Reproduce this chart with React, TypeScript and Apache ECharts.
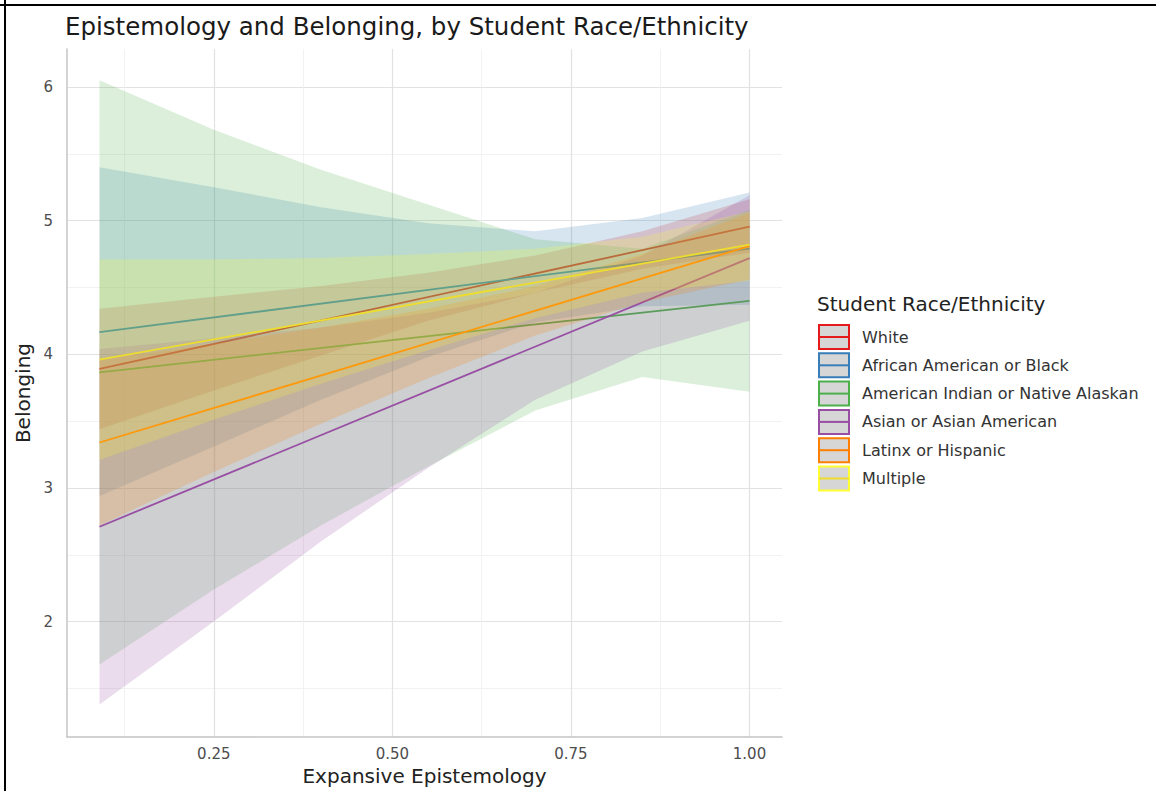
import { useEffect, useRef } from "react";
import * as echarts from "echarts";

// ---- data ----
const groups = [
  "White",
  "African American or Black",
  "American Indian or Native Alaskan",
  "Asian or Asian American",
  "Latinx or Hispanic",
  "Multiple",
];
const groupColors = ["#E41A1C", "#377EB8", "#4DAF4A", "#984EA3", "#FF7F00", "#FFFF33"];
const lineColors = ["#E41A1C", "#377EB8", "#4DAF4A", "#984EA3", "#FF7F00", "#EEDD2E"];

// fitted lines: value at x = 0.09 and x = 1.00
const lineX = [0.09, 1.0];
const lineStart = [3.89, 4.166, 3.865, 2.71, 3.34, 3.96];
const lineEnd = [4.955, 4.79, 4.4, 4.72, 4.81, 4.82];

// confidence ribbons read at these x positions
const ribbonX = [0.09, 0.25, 0.4, 0.55, 0.7, 0.85, 1.0];
const whiteLower = [3.44, 3.73, 3.99, 4.25, 4.46, 4.64, 4.76];
const whiteUpper = [4.34, 4.43, 4.51, 4.61, 4.74, 4.92, 5.16];
const blackLower = [2.94, 3.31, 3.66, 3.98, 4.24, 4.36, 4.37];
const blackUpper = [5.4, 5.25, 5.1, 4.98, 4.92, 5.02, 5.21];
const nativeLower = [1.68, 2.24, 2.72, 3.16, 3.58, 3.83, 3.72];
const nativeUpper = [6.05, 5.68, 5.38, 5.12, 4.86, 4.79, 5.08];
const asianLower = [1.38, 2.0, 2.6, 3.15, 3.66, 4.02, 4.25];
const asianUpper = [4.04, 4.12, 4.2, 4.31, 4.46, 4.74, 5.19];
const latinxLower = [2.72, 3.12, 3.48, 3.82, 4.14, 4.39, 4.56];
const latinxUpper = [3.96, 4.08, 4.2, 4.34, 4.51, 4.75, 5.06];
const multipleLower = [3.21, 3.51, 3.78, 4.03, 4.27, 4.46, 4.55];
const multipleUpper = [4.71, 4.71, 4.72, 4.75, 4.79, 4.88, 5.07];

const ribbonLower = [whiteLower, blackLower, nativeLower, asianLower, latinxLower, multipleLower];
const ribbonUpper = [whiteUpper, blackUpper, nativeUpper, asianUpper, latinxUpper, multipleUpper];

const xMin = 0.0445;
const xMax = 1.0455;
const yMin = 1.136;
const yMax = 6.284;

const FONT = "DejaVu Sans";

function rgba(hex: string, a: number) {
  const n = parseInt(hex.slice(1), 16);
  return `rgba(${(n >> 16) & 255},${(n >> 8) & 255},${n & 255},${a})`;
}

export default function App() {
  const ref = useRef<HTMLDivElement>(null);

  useEffect(() => {
    if (!ref.current) return;
    const chart = echarts.init(ref.current, null, { renderer: "svg" });

    const series: any[] = [];
    groups.forEach((g, i) => {
      const lo = ribbonLower[i];
      const hi = ribbonUpper[i];
      const color = groupColors[i];
      series.push({
        type: "custom",
        name: g + " CI",
        silent: true,
        z: 3 + i * 2,
        data: ribbonX.map((x, k) => [x, lo[k], hi[k]]),
        encode: { x: 0, y: [1, 2] },
        renderItem: (params: any, api: any) => {
          if (params.dataIndex !== 0) return null;
          const pts: number[][] = [];
          for (let k = 0; k < ribbonX.length; k++) pts.push(api.coord([ribbonX[k], hi[k]]));
          for (let k = ribbonX.length - 1; k >= 0; k--) pts.push(api.coord([ribbonX[k], lo[k]]));
          return {
            type: "polygon",
            shape: { points: pts },
            style: { fill: rgba(color, 0.2), stroke: "none" },
          };
        },
      });
      series.push({
        type: "line",
        name: g,
        z: 4 + i * 2,
        data: [
          [lineX[0], lineStart[i]],
          [lineX[1], lineEnd[i]],
        ],
        showSymbol: false,
        symbol: "none",
        silent: true,
        lineStyle: { color: lineColors[i], width: 1.8 },
      });
    });

    const legendTop = 325;
    const legendStep = 28.3;
    const legendGraphics: any[] = [];
    groups.forEach((g, i) => {
      const y = legendTop + i * legendStep;
      legendGraphics.push({
        type: "rect",
        shape: { x: 819, y: y, width: 30, height: 24 },
        style: { fill: "#D6D6D6", stroke: groupColors[i], lineWidth: 2 },
      });
      legendGraphics.push({
        type: "line",
        shape: { x1: 819, y1: y + 12, x2: 849, y2: y + 12 },
        style: { stroke: lineColors[i], lineWidth: 2 },
      });
      legendGraphics.push({
        type: "text",
        x: 862,
        y: y + 12,
        style: {
          text: g,
          fill: "#333333",
          font: `16px "${FONT}"`,
          textVerticalAlign: "middle",
          verticalAlign: "middle",
        },
      });
    });

    chart.setOption({
      animation: false,
      backgroundColor: "#ffffff",
      textStyle: { fontFamily: FONT },
      title: [
        {
          text: "Epistemology and Belonging, by Student Race/Ethnicity",
          left: 65,
          top: 14,
          padding: 0,
          textStyle: { fontFamily: FONT, fontSize: 24.5, fontWeight: "normal", color: "#1a1a1a" },
        },
        {
          text: "Student Race/Ethnicity",
          left: 817,
          top: 294,
          padding: 0,
          textStyle: { fontFamily: FONT, fontSize: 20, fontWeight: "normal", color: "#222222" },
        },
      ],
      grid: { left: 67, right: 374, top: 49, bottom: 52, containLabel: false },
      xAxis: {
        type: "value",
        min: xMin,
        max: xMax,
        minInterval: 0.25,
        maxInterval: 0.25,
        name: "Expansive Epistemology",
        nameLocation: "middle",
        nameGap: 27,
        nameTextStyle: { fontFamily: FONT, fontSize: 20, color: "#222222" },
        axisLine: { show: true, lineStyle: { color: "#C4C4C4", width: 1.5 } },
        axisTick: { show: false },
        axisLabel: {
          showMinLabel: false,
          showMaxLabel: false,
          margin: 9,
          fontSize: 15,
          fontFamily: FONT,
          color: "#4D4D4D",
          formatter: (v: number) => v.toFixed(2),
        },
        splitLine: { show: true, showMinLine: false, showMaxLine: false, lineStyle: { color: "#E2E2E2", width: 1.2 } },
        minorTick: { show: false, splitNumber: 2 },
        minorSplitLine: { show: true, lineStyle: { color: "#EFEFEF", width: 0.8 } },
      },
      yAxis: {
        type: "value",
        min: yMin,
        max: yMax,
        minInterval: 1,
        maxInterval: 1,
        name: "Belonging",
        nameLocation: "middle",
        nameRotate: 90,
        nameGap: 33,
        nameTextStyle: { fontFamily: FONT, fontSize: 20, color: "#222222" },
        axisLine: { show: true, lineStyle: { color: "#C4C4C4", width: 1.5 } },
        axisTick: { show: false },
        axisLabel: {
          showMinLabel: false,
          showMaxLabel: false,
          margin: 14,
          fontSize: 15,
          fontFamily: FONT,
          color: "#4D4D4D",
          formatter: (v: number) => String(Math.round(v)),
        },
        splitLine: { show: true, showMinLine: false, showMaxLine: false, lineStyle: { color: "#E2E2E2", width: 1.2 } },
        minorTick: { show: false, splitNumber: 2 },
        minorSplitLine: { show: true, lineStyle: { color: "#EFEFEF", width: 0.8 } },
      },
      graphic: [
        { type: "line", shape: { x1: 0, y1: 5, x2: 1156, y2: 5 }, style: { stroke: "#000", lineWidth: 2 }, z: 100 },
        { type: "line", shape: { x1: 5, y1: 0, x2: 5, y2: 791 }, style: { stroke: "#000", lineWidth: 2 }, z: 100 },
        ...legendGraphics,
      ],
      series,
    });

    return () => chart.dispose();
  }, []);

  return (
    <div
      ref={ref}
      style={{ position: "fixed", left: 0, top: 0, width: 1156, height: 791, background: "#fff" }}
    />
  );
}
